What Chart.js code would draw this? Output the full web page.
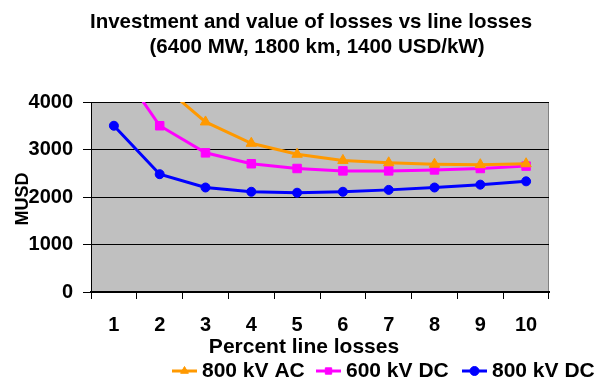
<!DOCTYPE html>
<html>
<head>
<meta charset="utf-8">
<script src="https://cdn.jsdelivr.net/npm/chart.js@4/dist/chart.umd.min.js"></script>
<style>
html,body{margin:0;padding:0;background:#fff;}
#wrap{width:597px;height:381px;position:relative;}
</style>
</head>
<body>
<div id="wrap"><canvas id="c" width="597" height="381"></canvas></div>
<script>
const categories = ['1','2','3','4','5','6','7','8','9','10'];
const ac800 = [5800, 4400, 3580, 3130, 2900, 2770, 2720, 2690, 2680, 2700];
const dc600 = [4900, 3500, 2930, 2700, 2600, 2550, 2550, 2570, 2600, 2650];
const dc800 = [3500, 2480, 2200, 2110, 2090, 2110, 2150, 2200, 2260, 2330];
const seriesNames = ['800 kV AC', '600 kV DC', '800 kV DC'];
const titleLines = ['Investment and value of losses vs line losses', '(6400 MW, 1800 km, 1400 USD/kW)'];
const yTitle = 'MUSD';
const xTitle = 'Percent line losses';

const FONT = "'Liberation Sans', Arial, sans-serif";

const plotBg = {
  id: 'plotBg',
  beforeDraw(chart) {
    const {ctx, chartArea: a} = chart;
    ctx.save();
    ctx.fillStyle = '#C0C0C0';
    ctx.fillRect(a.left, a.top, a.right - a.left, a.bottom - a.top);
    ctx.strokeStyle = '#808080';
    ctx.lineWidth = 1;
    ctx.beginPath();
    ctx.moveTo(a.left, a.top + 0.5);
    ctx.lineTo(a.right - 0.5, a.top + 0.5);
    ctx.lineTo(a.right - 0.5, a.bottom);
    ctx.stroke();
    ctx.restore();
  }
};

const customText = {
  id: 'customText',
  afterDraw(chart) {
    const {ctx} = chart;
    ctx.save();
    ctx.fillStyle = '#000';
    ctx.textBaseline = 'middle';
    ctx.textAlign = 'center';
    // chart title
    ctx.font = 'bold 20.5px ' + FONT;
    ctx.fillText(titleLines[0], 311, 22);
    ctx.fillText(titleLines[1], 317, 47);
    // y title
    ctx.save();
    ctx.font = 'bold 18px ' + FONT;
    ctx.translate(23, 199);
    ctx.rotate(-Math.PI / 2);
    ctx.fillText(yTitle, 0, 0);
    ctx.restore();
    // x title
    ctx.font = 'bold 21px ' + FONT;
    ctx.fillText(xTitle, 304, 347);
    // legend
    const items = chart.data.datasets;
    const starts = [172, 316, 462];
    ctx.textAlign = 'left';
    items.forEach((ds, i) => {
      const x0 = starts[i];
      const y = 371;
      ctx.strokeStyle = ds.borderColor;
      ctx.lineWidth = 3;
      ctx.beginPath();
      ctx.moveTo(x0, y);
      ctx.lineTo(x0 + 25, y);
      ctx.stroke();
      ctx.fillStyle = ds.borderColor;
      ctx.strokeStyle = ds.borderColor;
      ctx.lineWidth = 1;
      Chart.helpers.drawPoint(ctx, {pointStyle: ds.pointStyle, radius: 4.5, borderWidth: 1}, x0 + 12.5, y);
      ctx.fillStyle = '#000';
      ctx.fillText(ds.label, x0 + 30, y);
    });
    ctx.restore();
  }
};

new Chart(document.getElementById('c'), {
  type: 'line',
  data: {
    labels: categories,
    datasets: [
      {label: seriesNames[0], data: ac800, borderColor: '#FF9900', backgroundColor: '#FF9900', pointStyle: 'triangle', pointRadius: 6, borderWidth: 3, pointBorderWidth: 1},
      {label: seriesNames[1], data: dc600, borderColor: '#FF00FF', backgroundColor: '#FF00FF', pointStyle: 'rect', pointRadius: 6, borderWidth: 3, pointBorderWidth: 1},
      {label: seriesNames[2], data: dc800, borderColor: '#0000FF', backgroundColor: '#0000FF', pointStyle: 'circle', pointRadius: 4.5, borderWidth: 3, pointBorderWidth: 1}
    ]
  },
  options: {
    responsive: false,
    animation: false,
    devicePixelRatio: 1,
    layout: {padding: {left: 0, right: 48, top: 102, bottom: 44}},
    plugins: {
      legend: {display: false},
      tooltip: {enabled: false},
      title: {display: false}
    },
    scales: {
      x: {
        offset: true,
        grid: {offset: true, drawOnChartArea: false, color: '#000', tickLength: 7, lineWidth: 1},
        border: {color: '#000', width: 2},
        ticks: {color: '#000', font: {family: FONT, size: 20, weight: 'bold'}, padding: 14, maxRotation: 0},
        afterFit(s) { s.height = 45; }
      },
      y: {
        min: 0, max: 4000,
        ticks: {stepSize: 1000, color: '#000', font: {family: FONT, size: 20, weight: 'bold'}, padding: 10,
          callback: (v) => String(v)},
        grid: {color: '#000', tickLength: 8, lineWidth: 1},
        border: {color: '#000', width: 1},
        afterFit(s) { s.width = 91; }
      }
    }
  },
  plugins: [plotBg, customText]
});
</script>
</body>
</html>
